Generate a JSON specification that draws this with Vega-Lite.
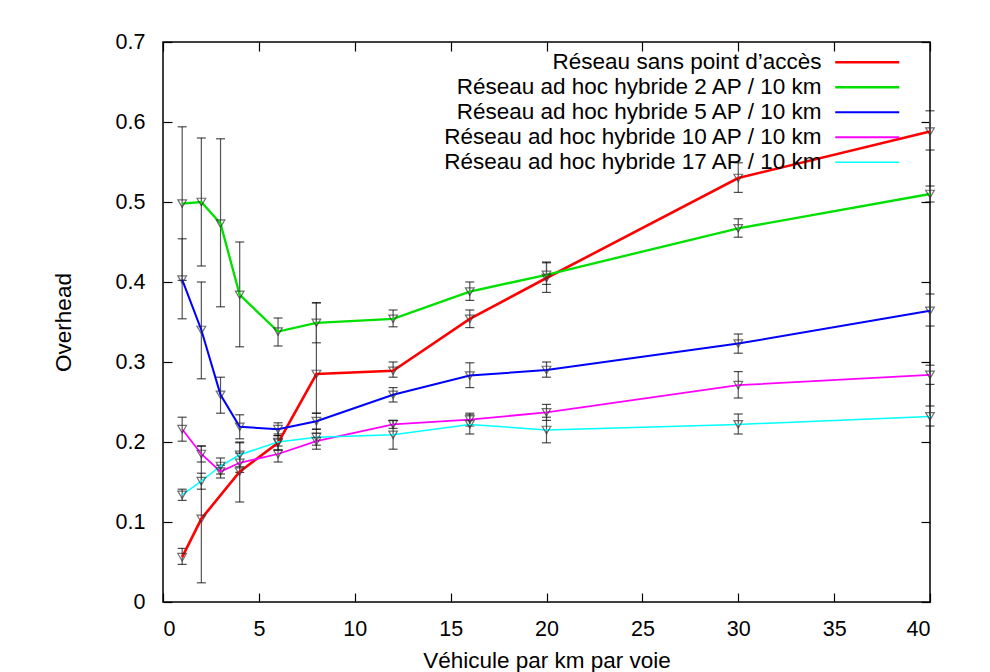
{
  "$schema": "https://vega.github.io/schema/vega-lite/v6.json",
  "autosize": "none",
  "width": 767,
  "height": 560,
  "padding": {"left": 163, "top": 42, "right": 60, "bottom": 70},
  "background": "white",
  "config": {
    "font": "Liberation Sans",
    "view": {"stroke": "black", "strokeWidth": 1.5},
    "axis": {"labelFont": "Liberation Sans", "titleFont": "Liberation Sans", "labelFontSize": 21.5, "titleFontSize": 22.5, "titleFontWeight": "normal", "labelColor": "black", "titleColor": "black", "grid": false, "domain": false, "tickColor": "black", "tickWidth": 1.2}
  },
  "data": {"values": [
    {"s": "Réseau sans point d’accès", "x": 1, "y": 0.056, "lo": 0.047, "hi": 0.067},
    {"s": "Réseau sans point d’accès", "x": 2, "y": 0.104, "lo": 0.024, "hi": 0.195},
    {"s": "Réseau sans point d’accès", "x": 4, "y": 0.163, "lo": 0.125, "hi": 0.2},
    {"s": "Réseau sans point d’accès", "x": 6, "y": 0.199, "lo": 0.19, "hi": 0.208},
    {"s": "Réseau sans point d’accès", "x": 8, "y": 0.285, "lo": 0.236, "hi": 0.374},
    {"s": "Réseau sans point d’accès", "x": 12, "y": 0.289, "lo": 0.281, "hi": 0.3},
    {"s": "Réseau sans point d’accès", "x": 16, "y": 0.354, "lo": 0.343, "hi": 0.365},
    {"s": "Réseau sans point d’accès", "x": 20, "y": 0.405, "lo": 0.387, "hi": 0.424},
    {"s": "Réseau sans point d’accès", "x": 30, "y": 0.53, "lo": 0.512, "hi": 0.549},
    {"s": "Réseau sans point d’accès", "x": 40, "y": 0.588, "lo": 0.565, "hi": 0.614},
    {"s": "Réseau ad hoc hybride 2 AP / 10 km", "x": 1, "y": 0.498, "lo": 0.402, "hi": 0.594},
    {"s": "Réseau ad hoc hybride 2 AP / 10 km", "x": 2, "y": 0.5, "lo": 0.42, "hi": 0.58},
    {"s": "Réseau ad hoc hybride 2 AP / 10 km", "x": 3, "y": 0.473, "lo": 0.369, "hi": 0.579},
    {"s": "Réseau ad hoc hybride 2 AP / 10 km", "x": 4, "y": 0.384, "lo": 0.319, "hi": 0.45},
    {"s": "Réseau ad hoc hybride 2 AP / 10 km", "x": 6, "y": 0.338, "lo": 0.32, "hi": 0.355},
    {"s": "Réseau ad hoc hybride 2 AP / 10 km", "x": 8, "y": 0.349, "lo": 0.324, "hi": 0.374},
    {"s": "Réseau ad hoc hybride 2 AP / 10 km", "x": 12, "y": 0.354, "lo": 0.344, "hi": 0.365},
    {"s": "Réseau ad hoc hybride 2 AP / 10 km", "x": 16, "y": 0.388, "lo": 0.377, "hi": 0.4},
    {"s": "Réseau ad hoc hybride 2 AP / 10 km", "x": 20, "y": 0.409, "lo": 0.397, "hi": 0.425},
    {"s": "Réseau ad hoc hybride 2 AP / 10 km", "x": 30, "y": 0.467, "lo": 0.456, "hi": 0.479},
    {"s": "Réseau ad hoc hybride 2 AP / 10 km", "x": 40, "y": 0.51, "lo": 0.5, "hi": 0.52},
    {"s": "Réseau ad hoc hybride 5 AP / 10 km", "x": 1, "y": 0.403, "lo": 0.354, "hi": 0.454},
    {"s": "Réseau ad hoc hybride 5 AP / 10 km", "x": 2, "y": 0.34, "lo": 0.279, "hi": 0.4},
    {"s": "Réseau ad hoc hybride 5 AP / 10 km", "x": 3, "y": 0.259, "lo": 0.236, "hi": 0.281},
    {"s": "Réseau ad hoc hybride 5 AP / 10 km", "x": 4, "y": 0.219, "lo": 0.204, "hi": 0.234},
    {"s": "Réseau ad hoc hybride 5 AP / 10 km", "x": 6, "y": 0.216, "lo": 0.208, "hi": 0.224},
    {"s": "Réseau ad hoc hybride 5 AP / 10 km", "x": 8, "y": 0.226, "lo": 0.216, "hi": 0.236},
    {"s": "Réseau ad hoc hybride 5 AP / 10 km", "x": 12, "y": 0.259, "lo": 0.25, "hi": 0.268},
    {"s": "Réseau ad hoc hybride 5 AP / 10 km", "x": 16, "y": 0.283, "lo": 0.268, "hi": 0.299},
    {"s": "Réseau ad hoc hybride 5 AP / 10 km", "x": 20, "y": 0.29, "lo": 0.281, "hi": 0.3},
    {"s": "Réseau ad hoc hybride 5 AP / 10 km", "x": 30, "y": 0.323, "lo": 0.311, "hi": 0.335},
    {"s": "Réseau ad hoc hybride 5 AP / 10 km", "x": 40, "y": 0.364, "lo": 0.345, "hi": 0.385},
    {"s": "Réseau ad hoc hybride 10 AP / 10 km", "x": 1, "y": 0.216, "lo": 0.201, "hi": 0.231},
    {"s": "Réseau ad hoc hybride 10 AP / 10 km", "x": 2, "y": 0.185, "lo": 0.175, "hi": 0.195},
    {"s": "Réseau ad hoc hybride 10 AP / 10 km", "x": 3, "y": 0.163, "lo": 0.155, "hi": 0.171},
    {"s": "Réseau ad hoc hybride 10 AP / 10 km", "x": 4, "y": 0.174, "lo": 0.162, "hi": 0.186},
    {"s": "Réseau ad hoc hybride 10 AP / 10 km", "x": 6, "y": 0.185, "lo": 0.175, "hi": 0.195},
    {"s": "Réseau ad hoc hybride 10 AP / 10 km", "x": 8, "y": 0.201, "lo": 0.191, "hi": 0.211},
    {"s": "Réseau ad hoc hybride 10 AP / 10 km", "x": 12, "y": 0.222, "lo": 0.217, "hi": 0.227},
    {"s": "Réseau ad hoc hybride 10 AP / 10 km", "x": 16, "y": 0.228, "lo": 0.22, "hi": 0.236},
    {"s": "Réseau ad hoc hybride 10 AP / 10 km", "x": 20, "y": 0.237, "lo": 0.227, "hi": 0.247},
    {"s": "Réseau ad hoc hybride 10 AP / 10 km", "x": 30, "y": 0.271, "lo": 0.255, "hi": 0.288},
    {"s": "Réseau ad hoc hybride 10 AP / 10 km", "x": 40, "y": 0.284, "lo": 0.272, "hi": 0.296},
    {"s": "Réseau ad hoc hybride 17 AP / 10 km", "x": 1, "y": 0.134, "lo": 0.127, "hi": 0.141},
    {"s": "Réseau ad hoc hybride 17 AP / 10 km", "x": 2, "y": 0.151, "lo": 0.141, "hi": 0.161},
    {"s": "Réseau ad hoc hybride 17 AP / 10 km", "x": 3, "y": 0.17, "lo": 0.16, "hi": 0.18},
    {"s": "Réseau ad hoc hybride 17 AP / 10 km", "x": 4, "y": 0.184, "lo": 0.169, "hi": 0.199},
    {"s": "Réseau ad hoc hybride 17 AP / 10 km", "x": 6, "y": 0.2, "lo": 0.19, "hi": 0.21},
    {"s": "Réseau ad hoc hybride 17 AP / 10 km", "x": 8, "y": 0.206, "lo": 0.196, "hi": 0.216},
    {"s": "Réseau ad hoc hybride 17 AP / 10 km", "x": 12, "y": 0.209, "lo": 0.191, "hi": 0.227},
    {"s": "Réseau ad hoc hybride 17 AP / 10 km", "x": 16, "y": 0.222, "lo": 0.21, "hi": 0.234},
    {"s": "Réseau ad hoc hybride 17 AP / 10 km", "x": 20, "y": 0.215, "lo": 0.199, "hi": 0.231},
    {"s": "Réseau ad hoc hybride 17 AP / 10 km", "x": 30, "y": 0.222, "lo": 0.21, "hi": 0.235},
    {"s": "Réseau ad hoc hybride 17 AP / 10 km", "x": 40, "y": 0.232, "lo": 0.22, "hi": 0.245}
  ]},
  "resolve": {"axis": {"x": "independent", "y": "independent"}},
  "layer": [
    {
      "mark": {"type": "rule", "color": "#555555", "strokeWidth": 1.2},
      "encoding": {
        "x": {"field": "x", "type": "quantitative", "scale": {"domain": [0, 40], "nice": false}, "axis": {"orient": "bottom", "values": [0,5,10,15,20,25,30,35,40], "tickSize": -9, "labelPadding": 25, "title": "Véhicule par km par voie", "titlePadding": 10}},
        "y": {"field": "lo", "type": "quantitative", "scale": {"domain": [0, 0.7], "nice": false}, "axis": {"orient": "left", "values": [0,0.1,0.2,0.3,0.4,0.5,0.6,0.7], "format": "~g", "tickSize": -9, "labelPadding": 27, "title": "Overhead", "titlePadding": 40}},
        "y2": {"field": "hi"}
      }
    },
    {
      "mark": {"type": "tick", "orient": "horizontal", "color": "black", "size": 9, "thickness": 1.2},
      "encoding": {
        "x": {"field": "x", "type": "quantitative", "axis": {"orient": "top", "values": [0,5,10,15,20,25,30,35,40], "tickSize": -9, "labels": false, "title": null}},
        "y": {"field": "lo", "type": "quantitative", "axis": {"orient": "right", "values": [0,0.1,0.2,0.3,0.4,0.5,0.6,0.7], "tickSize": -9, "labels": false, "title": null}}
      }
    },
    {
      "mark": {"type": "tick", "orient": "horizontal", "color": "black", "size": 9, "thickness": 1.2},
      "encoding": {
        "x": {"field": "x", "type": "quantitative", "axis": null},
        "y": {"field": "hi", "type": "quantitative", "axis": null}
      }
    },
    {
      "mark": {"type": "line", "strokeCap": "butt"},
      "encoding": {
        "x": {"field": "x", "type": "quantitative", "axis": null},
        "y": {"field": "y", "type": "quantitative", "axis": null},
        "color": {"field": "s", "type": "nominal", "sort": null,
          "scale": {"domain": ["Réseau sans point d’accès", "Réseau ad hoc hybride 2 AP / 10 km", "Réseau ad hoc hybride 5 AP / 10 km", "Réseau ad hoc hybride 10 AP / 10 km", "Réseau ad hoc hybride 17 AP / 10 km"], "range": ["#ff0000", "#00e000", "#0000ff", "#ff00ff", "#00ffff"]},
          "legend": {"title": null, "orient": "none", "legendX": 693, "legendY": 9, "symbolType": "M-4,0H4", "symbolSize": 256, "symbolStrokeWidth": 1.8, "labelAlign": "right", "labelOffset": -57, "labelFontSize": 22.5, "labelFont": "Liberation Sans", "labelColor": "black", "rowPadding": 2, "labelLimit": 400}},
        "strokeWidth": {"field": "s", "type": "nominal", "scale": {"domain": ["Réseau sans point d’accès", "Réseau ad hoc hybride 2 AP / 10 km", "Réseau ad hoc hybride 5 AP / 10 km", "Réseau ad hoc hybride 10 AP / 10 km", "Réseau ad hoc hybride 17 AP / 10 km"], "range": [2.6, 1.5, 1.5, 1.5, 1.5]}, "legend": null},
        "order": {"field": "x", "type": "quantitative"}
      }
    },
    {
      "mark": {"type": "point", "shape": "triangle-down", "size": 75, "filled": false, "stroke": "#333333", "strokeWidth": 1.2},
      "encoding": {
        "x": {"field": "x", "type": "quantitative", "axis": null},
        "y": {"field": "y", "type": "quantitative", "axis": null}
      }
    }
  ]
}
